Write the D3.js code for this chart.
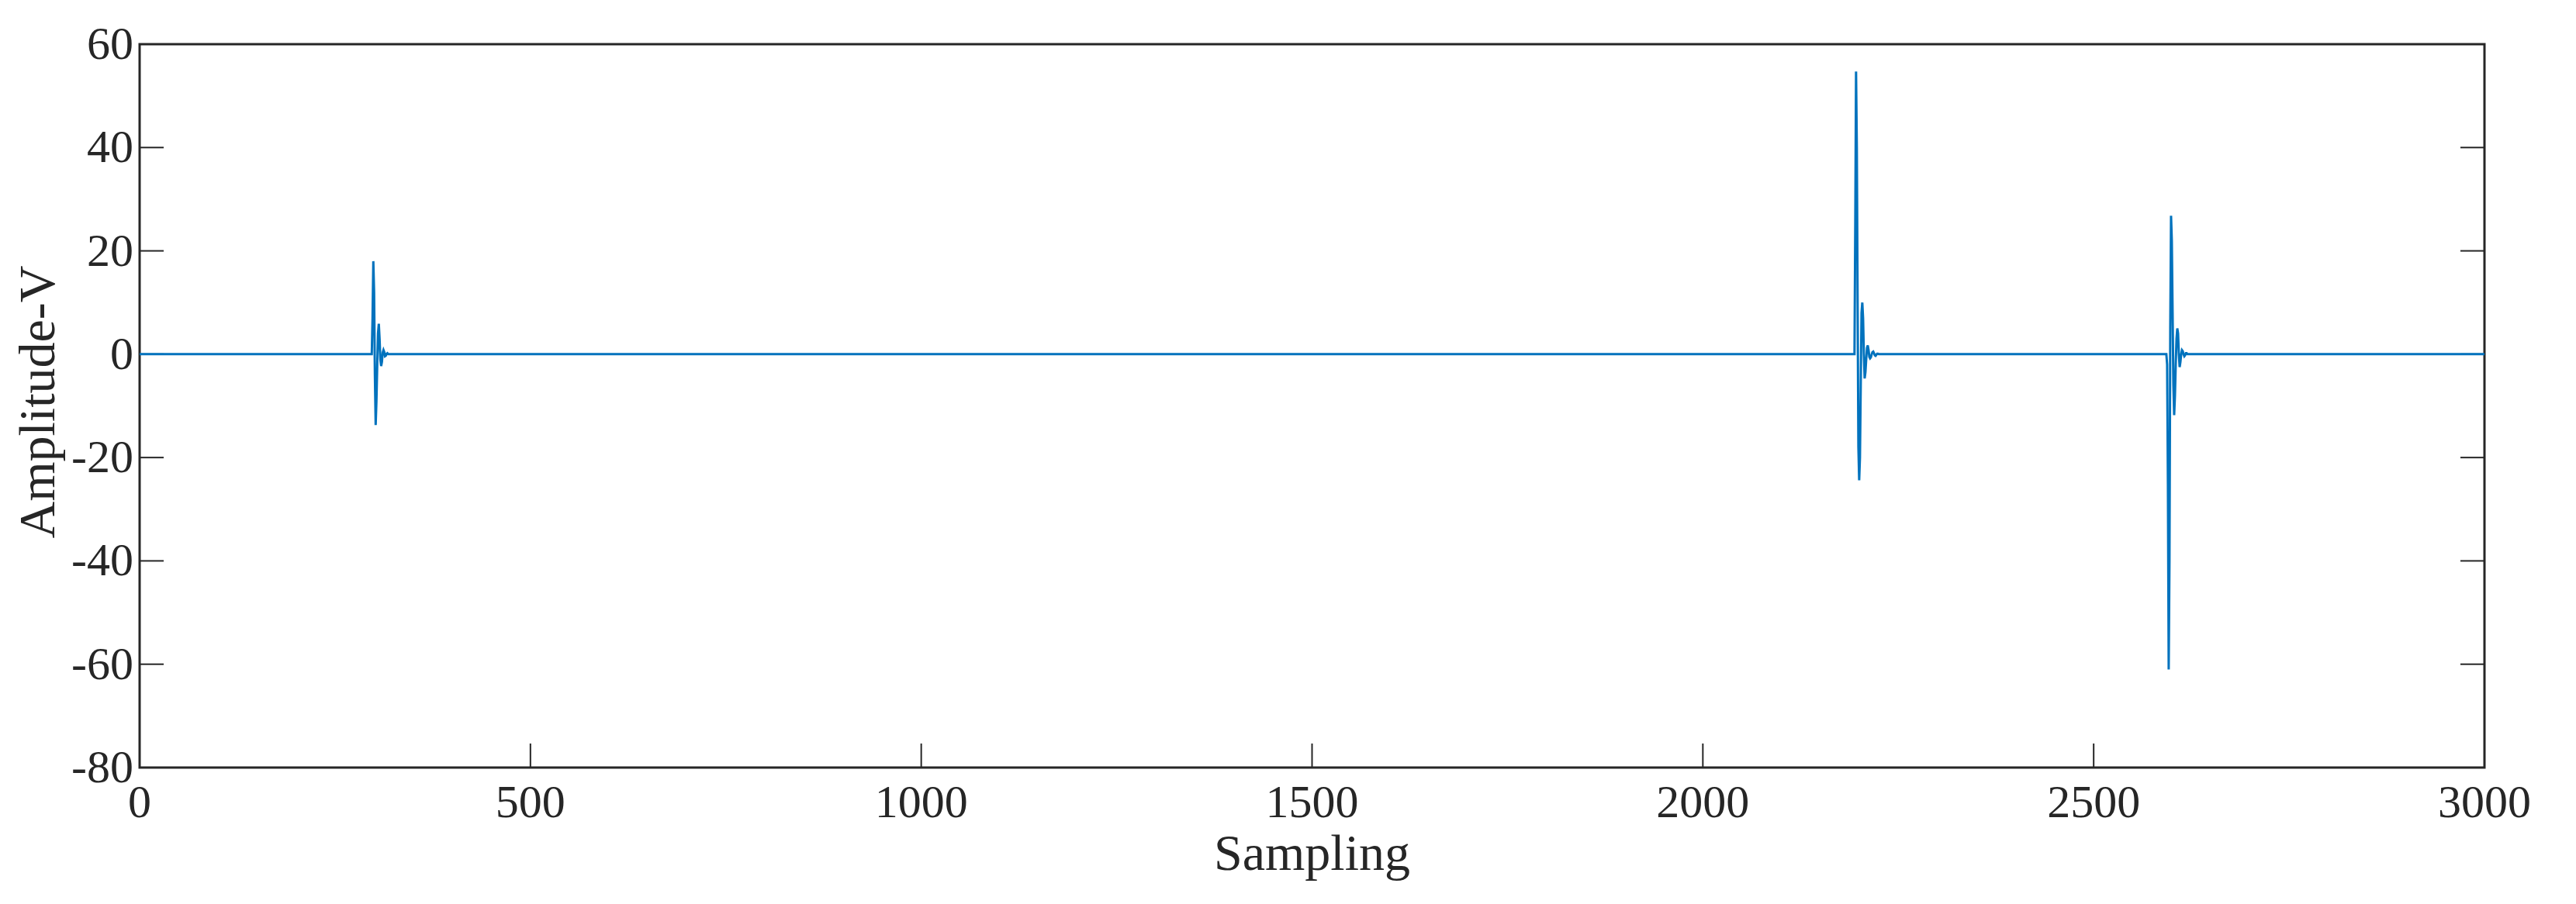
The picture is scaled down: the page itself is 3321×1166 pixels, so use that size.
<!DOCTYPE html>
<html><head><meta charset="utf-8">
<script src="https://cdn.jsdelivr.net/npm/d3@7"></script>
<style>body{margin:0;background:#fff}svg text{font-family:"Liberation Serif","DejaVu Serif",serif;fill:#262626}</style>
</head><body>
<svg id="c" width="3321" height="1166"></svg>
<script>
const xTicks = [0,500,1000,1500,2000,2500,3000];
const yTicks = [-80,-60,-40,-20,0,20,40,60];
// samples and amplitudes (only non-trivial region points; zero elsewhere)
const samples = [0,297,298,299,300,301,302,303,304,305,306,307,308,309,310,311,312,313,314,315,316,317,318,319,320,
  2193,2194,2195,2196,2197,2198,2199,2200,2201,2202,2203,2204,2205,2206,2207,2208,2209,2210,2211,2212,2213,2214,2215,2216,2217,2218,2219,2220,2221,2222,2223,2224,2225,2226,2227,2228,2230,
  2592,2593,2594,2595,2596,2597,2598,2599,2600,2601,2602,2603,2604,2605,2606,2607,2608,2609,2610,2611,2612,2613,2614,2615,2616,2617,2618,2619,2620,2621,2622,2624,2626,2628,2630,3000];
const amplitude = [0,0,7,18,12,-4,-13.7,-9,-2,4,5.9,3,-1,-2.3,-1.5,0.3,0.8,0.4,-0.4,-0.3,0.1,0.2,0,0,0,
  0,0,25,54.7,40,10,-18,-24.4,-20,-6,8,10,7,0,-4.7,-3.5,-1,1.2,1.7,0.8,-0.5,-0.8,-0.6,0,0.4,0.5,0.2,-0.2,-0.3,-0.1,0.1,0.1,0,0,0,0,0,
  0,0,-2,-25,-61,-40,5,26.8,22,8,-6,-11.8,-8,-2,3,5,4,0,-2.5,-1.5,0,0.8,0.6,0,-0.4,-0.2,0.2,0.2,0,0,0,0,0,0,0,0];

const svg = d3.select("#c");
const L=180, R=3203, T=57, B=990;
const x = d3.scaleLinear().domain([0,3000]).range([L,R]);
const y = d3.scaleLinear().domain([-80,60]).range([B,T]);
const tk=31, fs=60;

svg.append("rect").attr("x",L).attr("y",T).attr("width",R-L).attr("height",B-T)
  .attr("fill","none").attr("stroke","#262626").attr("stroke-width",3);

const ax=svg.append("g");
xTicks.forEach(t=>{
  ax.append("line").attr("x1",x(t)).attr("x2",x(t)).attr("y1",B).attr("y2",B-tk).attr("stroke","#262626").attr("stroke-width",2);
  ax.append("text").attr("x",x(t)).attr("y",1054).attr("text-anchor","middle").attr("font-size",fs).text(t);
});
yTicks.forEach(t=>{
  ax.append("line").attr("x1",L).attr("x2",L+tk).attr("y1",y(t)).attr("y2",y(t)).attr("stroke","#262626").attr("stroke-width",2);
  ax.append("line").attr("x1",R).attr("x2",R-tk).attr("y1",y(t)).attr("y2",y(t)).attr("stroke","#262626").attr("stroke-width",2);
  ax.append("text").attr("x",L-8).attr("y",y(t)+19).attr("text-anchor","end").attr("font-size",fs).text(t);
});
svg.append("text").attr("x",(L+R)/2).attr("y",1122).attr("text-anchor","middle").attr("font-size",66).text("Sampling");
svg.append("text").attr("transform",`translate(70,${(T+B)/2 - 5}) rotate(-90)`).attr("text-anchor","middle").attr("font-size",66).text("Amplitude-V");

const data = samples.map((s,i)=>[s,amplitude[i]]);
svg.append("path").datum(data).attr("fill","none").attr("stroke","#0072BD").attr("stroke-width",3)
  .attr("d",d3.line().x(d=>x(d[0])).y(d=>y(d[1])));
</script>
</body></html>
